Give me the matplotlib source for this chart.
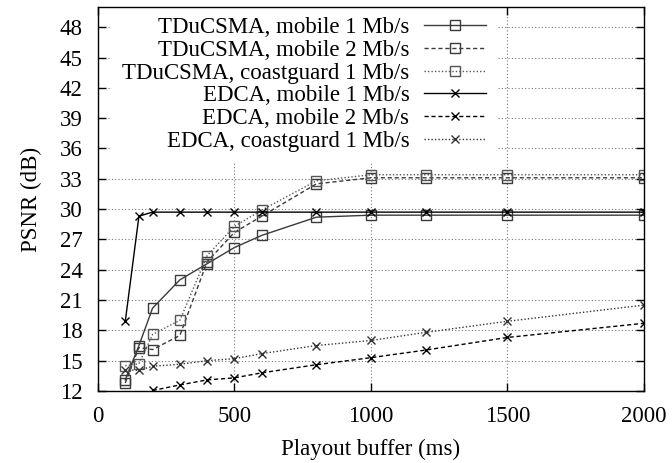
'''PSNR vs playout buffer, TDuCSMA vs EDCA'''

import numpy as np
import matplotlib
matplotlib.use("Agg")
import matplotlib.pyplot as plt

plt.rcParams['font.family'] = ['Liberation Serif', 'DejaVu Serif']
plt.rcParams['font.size'] = 16.5

# playout buffer (ms)
buffer_ms = [100, 150, 200, 300, 400, 500, 600, 800, 1000, 1200, 1500, 2000]
edca_m2_buffer = buffer_ms[2:]

# PSNR (dB)
tducsma_mobile1 = [13.1, 16.5, 20.2, 23.0, 24.6, 26.2, 27.4, 29.2, 29.4, 29.4, 29.4, 29.4]
tducsma_mobile2 = [12.8, 16.3, 16.1, 17.5, 24.8, 27.7, 29.3, 32.5, 33.1, 33.1, 33.1, 33.1]
tducsma_coast1 = [14.5, 14.7, 17.6, 19.0, 25.4, 28.3, 29.9, 32.8, 33.4, 33.4, 33.4, 33.4]
edca_mobile1 = [18.9, 29.3, 29.7, 29.7, 29.7, 29.7, 29.7, 29.7, 29.7, 29.7, 29.7, 29.7]
edca_mobile2 = [12.05, 12.6, 13.1, 13.3, 13.8, 14.6, 15.3, 16.05, 17.3, 18.7]
edca_coast1 = [14.1, 14.05, 14.45, 14.65, 15.0, 15.2, 15.7, 16.5, 17.0, 17.8, 18.9, 20.5]

labels = ["TDuCSMA, mobile 1 Mb/s", "TDuCSMA, mobile 2 Mb/s", "TDuCSMA, coastguard 1 Mb/s",
          "EDCA, mobile 1 Mb/s", "EDCA, mobile 2 Mb/s", "EDCA, coastguard 1 Mb/s"]

fig = plt.figure(figsize=(6.72, 4.63), dpi=100)
ax = fig.add_axes([0.1458, 0.1555, 0.8125, 0.8294])

gray = '#3a3a3a'
dash = (0, (3, 2))
dot = (0, (1, 1.5))
sq = dict(marker='s', markersize=7, mfc='none', mew=1.0, lw=1.0)
xx = dict(marker='x', markersize=6, mew=1.0, lw=1.0)

ax.plot(buffer_ms, tducsma_mobile1, color=gray, linestyle='-', label=labels[0], **sq)
ax.plot(buffer_ms, tducsma_mobile2, color=gray, linestyle=dash, label=labels[1], **sq)
ax.plot(buffer_ms, tducsma_coast1, color='#555555', linestyle=dot, label=labels[2], **sq)
ax.plot(buffer_ms, edca_mobile1, color='black', linestyle='-', label=labels[3], **xx)
ax.plot(edca_m2_buffer, edca_mobile2, color='black', linestyle=dash, label=labels[4], **xx)
ax.plot(buffer_ms, edca_coast1, color='#333333', linestyle=dot, label=labels[5], **xx)

ax.set_xlim(0, 2000)
ax.set_ylim(12, 50)
ax.set_xticks([0, 500, 1000, 1500, 2000])
ax.set_yticks(np.arange(12, 49, 3))
ax.tick_params(direction='in', top=True, right=True, length=6, width=1, pad=11)
ax.set_axisbelow(True)
ax.grid(True, color='#777777', linestyle=(0, (1, 2)), lw=0.8)
for s in ax.spines.values():
    s.set_linewidth(1.0)

ax.set_xlabel("Playout buffer (ms)", labelpad=8)
ax.set_ylabel("PSNR (dB)", labelpad=13)

leg = ax.legend(loc='upper right', bbox_to_anchor=(0.73, 1.0), markerfirst=False,
                numpoints=1, handlelength=2.7, handletextpad=0.65, labelspacing=0.07,
                borderaxespad=0.0, borderpad=0.45, frameon=True, fancybox=False,
                edgecolor='none', facecolor='white', framealpha=1.0)
leg.set_zorder(1)

fig.savefig("out.png", dpi=100)
